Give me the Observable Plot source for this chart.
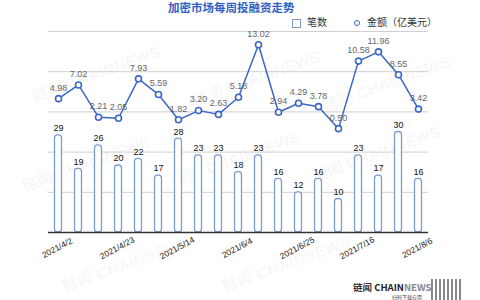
<!DOCTYPE html>
<html><head><meta charset="utf-8">
<script src="https://cdn.jsdelivr.net/npm/d3@7"></script>
<script src="https://cdn.jsdelivr.net/npm/@observablehq/plot@0.6"></script>
<style>
body{margin:0;background:#fff;font-family:"Liberation Sans","Noto Sans CJK SC",sans-serif;}
#wrap{position:relative;width:480px;height:300px;overflow:hidden;}
#wrap svg{position:absolute;left:0;top:0;}
.ov{position:absolute;white-space:nowrap;line-height:1;}
.wm{position:absolute;white-space:nowrap;color:rgba(0,0,0,0.05);font-size:16px;font-weight:bold;transform:rotate(-20deg);transform-origin:left top;line-height:1;}
</style></head>
<body><div id="wrap"></div>
<script>
const weeks = ["2021/4/2","2021/4/9","2021/4/16","2021/4/23","2021/4/30","2021/5/7","2021/5/14","2021/5/21","2021/5/28","2021/6/4","2021/6/11","2021/6/18","2021/6/25","2021/7/2","2021/7/9","2021/7/16","2021/7/23","2021/7/30","2021/8/6"];
const counts = [29,19,26,20,22,17,28,23,23,18,23,16,12,16,10,23,17,30,16];
const amounts = [4.98,7.02,2.21,2.05,7.93,5.59,1.82,3.20,2.63,5.18,13.02,2.94,4.29,3.78,0.50,10.58,11.96,8.55,3.42];
const tickLabels = ["2021/4/2","2021/4/23","2021/5/14","2021/6/4","2021/6/25","2021/7/16","2021/8/6"];
const gridValues = [12,24,36,48,60];

const barDomain = [0,60];
const lineDomain = [-15,15];
const toBar = v => (v - lineDomain[0]) / (lineDomain[1]-lineDomain[0]) * (barDomain[1]-barDomain[0]) + barDomain[0];

const rows = weeks.map((w,i)=>({week:w,count:counts[i],amount:amounts[i],ay:toBar(amounts[i])}));
const blue = "#3a67c6";
const barStroke = "#7d9bcc";

const chart = Plot.plot({
  width:480, height:300,
  marginTop:31, marginBottom:68, marginLeft:48, marginRight:52,
  style:{fontFamily:'"Liberation Sans","Noto Sans CJK SC",sans-serif', background:"transparent"},
  x:{type:"band", domain:weeks, padding:0, axis:null},
  y:{domain:barDomain, axis:null},
  marks:[
    Plot.ruleY(gridValues,{stroke:"#cfcfcf", strokeWidth:1}),
    Plot.barY(rows,{x:"week", y:"count", fill:"white", stroke:barStroke, strokeWidth:1.3, insetLeft:6.5, insetRight:6.5, rx:3}),
    Plot.ruleY([0],{stroke:"#333", strokeWidth:1.5}),
    Plot.text(rows,{x:"week", y:"count", text:d=>String(d.count), dy:-7, fontSize:9, fill:"#111"}),
    Plot.line(rows,{x:"week", y:"ay", stroke:blue, strokeWidth:1.5}),
    Plot.dot(rows,{x:"week", y:"ay", r:3, fill:"white", stroke:blue, strokeWidth:1.6}),
    Plot.text(rows,{x:"week", y:"ay", text:d=>d.amount.toFixed(2), dy:-11, fontSize:9, fill:"#666"}),
    Plot.text(tickLabels,{x:d=>d, frameAnchor:"bottom", dy:18, rotate:-28, fontSize:8.5, fill:"#222"})
  ]
});
const wrap = document.getElementById("wrap");
// faint watermarks
const wms = [[30,90],[190,95],[320,100],[20,180],[170,175],[310,170],[60,280],[220,280]];
wms.forEach(([x,y])=>{const d=document.createElement("div");d.className="wm";d.style.left=x+"px";d.style.top=y+"px";d.textContent="链闻 CHAINNEWS";wrap.appendChild(d);});
wrap.appendChild(chart);
const add=(html,style)=>{const d=document.createElement("div");d.className="ov";d.innerHTML=html;Object.assign(d.style,style);wrap.appendChild(d);return d;};
add("加密市场每周投融资走势",{left:"168px",top:"2px",fontSize:"11.5px",fontWeight:"bold",color:"#2f5fc4",fontFamily:'"Noto Sans CJK SC",sans-serif'});
add('<span style="display:inline-block;width:7px;height:7px;border:1.2px solid '+barStroke+';vertical-align:middle;margin-right:6px;"></span>笔数',{left:"292px",top:"17px",fontSize:"10px",color:"#333",fontFamily:'"Noto Sans CJK SC",sans-serif'});
add('<span style="display:inline-block;width:4px;height:4px;border:1.8px solid '+blue+';border-radius:50%;vertical-align:middle;margin-right:7px;"></span>金额（亿美元）',{left:"354px",top:"17px",fontSize:"10px",color:"#333",fontFamily:'"Noto Sans CJK SC",sans-serif'});
add('<span style="color:#333">链闻 </span><span style="color:#222">CHAIN</span><span style="color:#888">NEWS</span>',{left:"353px",top:"283px",fontSize:"9.5px",fontWeight:"bold",fontFamily:'"Noto Sans CJK SC",sans-serif'});
add('扫码下载应用',{left:"392px",top:"294px",fontSize:"5px",color:"#444",fontFamily:'"Noto Sans CJK SC",sans-serif'});
add('',{left:"431px",top:"279px",width:"30px",height:"21px",background:"repeating-linear-gradient(90deg,#555 0 2px,#fff 2px 4px),#555",opacity:"0.7"});
</script></body></html>
